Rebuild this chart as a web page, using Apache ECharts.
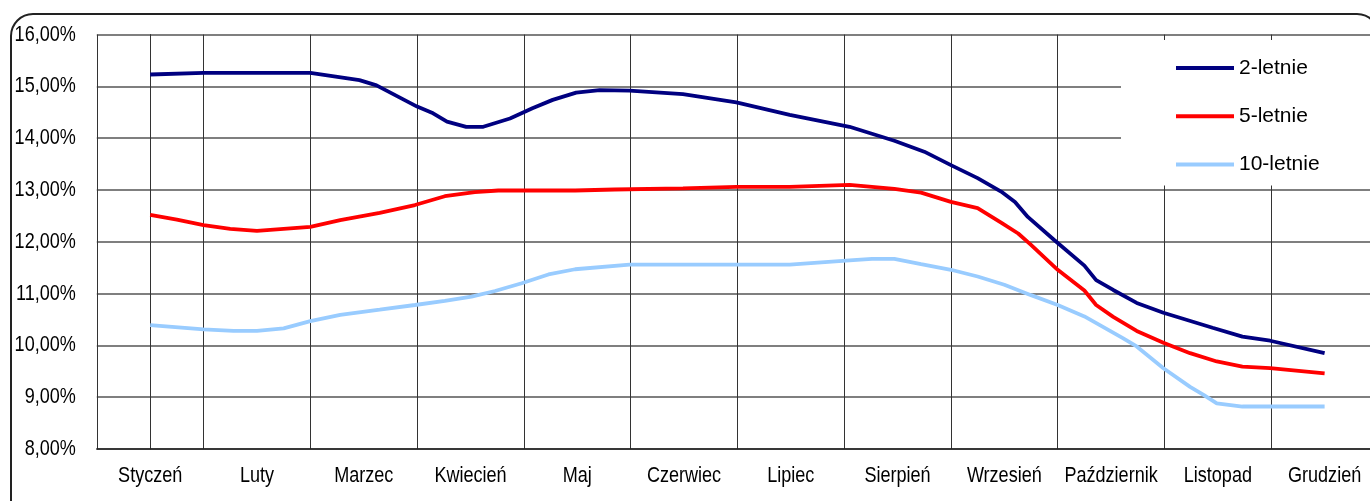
<!DOCTYPE html>
<html>
<head>
<meta charset="utf-8">
<style>
  html, body { margin: 0; padding: 0; background: #fff; overflow: hidden; }
  #chart { width: 1378px; height: 501px; }
</style>
<script src="https://cdn.jsdelivr.net/npm/echarts@6/dist/echarts.min.js"></script>
</head>
<body>
<div id="chart"></div>
<script>
// Month labels on the category axis
const months = ['Styczeń', 'Luty', 'Marzec', 'Kwiecień', 'Maj', 'Czerwiec',
                'Lipiec', 'Sierpień', 'Wrzesień', 'Październik', 'Listopad', 'Grudzień'];

// Y-axis ticks (yield, %)
const yTicks = [8, 9, 10, 11, 12, 13, 14, 15, 16];

// Yield observations: position in months (0 = middle of January) and yield in %
const pos2 = [0, 0.5, 1.5, 1.96, 2.12, 2.5, 2.65, 2.78, 2.96, 3.12, 3.37, 3.58, 3.77, 3.99,
              4.21, 4.49, 4.99, 5.49, 5.99, 6.55, 6.97, 7.25, 7.5, 7.75, 7.97, 8.1, 8.22,
              8.47, 8.75, 8.86, 9.02, 9.24, 9.49, 9.95, 10.23, 10.49, 11];
const val2 = [15.23, 15.26, 15.26, 15.12, 15.02, 14.61, 14.48, 14.32, 14.22, 14.22, 14.38, 14.58, 14.74, 14.88,
              14.93, 14.92, 14.85, 14.69, 14.45, 14.22, 13.95, 13.74, 13.48, 13.23, 12.97, 12.77, 12.48,
              12.03, 11.54, 11.26, 11.07, 10.82, 10.63, 10.34, 10.17, 10.09, 9.85];

const pos5 = [0, 0.25, 0.5, 0.75, 1, 1.5, 1.78, 2.15, 2.48, 2.76, 3.04, 3.26, 3.98, 4.35,
              4.99, 5.49, 5.99, 6.55, 6.97, 7.22, 7.5, 7.75, 7.97, 8.13, 8.25, 8.5, 8.75,
              8.86, 9.02, 9.24, 9.49, 9.74, 9.99, 10.23, 10.49, 11];
const val5 = [12.52, 12.43, 12.32, 12.25, 12.21, 12.29, 12.42, 12.56, 12.71, 12.88, 12.96, 12.99, 12.99, 13.01,
              13.03, 13.06, 13.06, 13.10, 13.02, 12.95, 12.77, 12.65, 12.37, 12.16, 11.94, 11.46, 11.06,
              10.78, 10.55, 10.28, 10.05, 9.85, 9.69, 9.59, 9.56, 9.46];

const pos10 = [0, 0.5, 0.78, 1, 1.25, 1.5, 1.78, 2.15, 2.48, 2.76, 3.01, 3.23, 3.48, 3.73, 3.98,
               4.49, 5.99, 6.55, 6.76, 6.97, 7.22, 7.5, 7.75, 8, 8.25, 8.5, 8.75, 9.11, 9.24,
               9.49, 9.74, 9.87, 9.99, 10.23, 11];
const val10 = [10.39, 10.31, 10.28, 10.28, 10.33, 10.47, 10.59, 10.69, 10.78, 10.86, 10.94, 11.05, 11.20, 11.37, 11.47,
               11.56, 11.56, 11.64, 11.67, 11.67, 11.57, 11.46, 11.33, 11.17, 10.97, 10.78, 10.56, 10.14, 9.98,
               9.56, 9.20, 9.04, 8.88, 8.82, 8.82];

const seriesNames = ['2-letnie', '5-letnie', '10-letnie'];
const seriesColors = ['#000080', '#FF0000', '#99CCFF'];

const zip = (xs, ys) => xs.map((x, i) => [x, ys[i]]);
const seriesData = [zip(pos2, val2), zip(pos5, val5), zip(pos10, val10)];

const FONT_FAMILY = '"Liberation Sans", Arial, sans-serif';
const LABEL_FONT = '22px ' + FONT_FAMILY;
const NARROW = 0.82;          // horizontal squeeze for the condensed label lettering

const chart = echarts.init(document.getElementById('chart'), null, { renderer: 'canvas' });

const frame = {
  type: 'rect',
  z: 100,
  silent: true,
  shape: { x: 11, y: 14, width: 1368, height: 540, r: 22 },
  style: { fill: 'none', stroke: '#222', lineWidth: 2 }
};

chart.setOption({
  animation: false,
  backgroundColor: '#fff',
  textStyle: { fontFamily: FONT_FAMILY },
  grid: { left: 96.8, top: 34.6, right: 0, bottom: 52, containLabel: false },
  xAxis: [
    {
      type: 'category',
      data: months,
      boundaryGap: true,
      axisLine: { show: true, lineStyle: { color: '#222', width: 1.5 } },
      axisTick: { show: false },
      axisLabel: { show: false },
      splitLine: { show: true, interval: 0, lineStyle: { color: '#333', width: 1 } }
    },
    {
      type: 'value',
      min: -0.5,
      max: 11.5,
      show: false
    }
  ],
  yAxis: {
    type: 'value',
    min: 8,
    max: 16,
    interval: 1,
    axisLine: { show: true, lineStyle: { color: '#333', width: 1 } },
    axisTick: { show: false },
    axisLabel: { show: false },
    splitLine: { show: true, lineStyle: { color: '#555', width: 1.5 } }
  },
  legend: {
    orient: 'vertical',
    left: 1121,
    top: 40,
    padding: [16, 160, 9, 55],
    backgroundColor: '#fff',
    icon: 'rect',
    itemWidth: 58,
    itemHeight: 4,
    itemGap: 24.3,
    textStyle: { color: '#000', fontSize: 21, lineHeight: 24, fontFamily: FONT_FAMILY },
    data: seriesNames
  },
  series: seriesNames.map((name, i) => ({
    name,
    type: 'line',
    xAxisIndex: 1,
    yAxisIndex: 0,
    data: seriesData[i],
    symbol: 'none',
    smooth: false,
    lineStyle: { color: seriesColors[i], width: 3.8 },
    itemStyle: { color: seriesColors[i] }
  })),
  graphic: [frame]
});

// Axis labels in condensed lettering, placed through the axes' own scales
const plotLeft = chart.convertToPixel({ xAxisIndex: 1 }, -0.5);
const plotBottom = chart.convertToPixel({ yAxisIndex: 0 }, 8);

function narrowText(text, x, y, align) {
  return {
    type: 'text',
    silent: true,
    x, y,
    scaleX: NARROW,
    style: {
      text, x: 0, y: 0, font: LABEL_FONT, fill: '#000',
      align, textAlign: align, verticalAlign: 'middle', textVerticalAlign: 'middle'
    }
  };
}

const yLabels = yTicks.map(v => narrowText(
  v.toFixed(2).replace('.', ',') + '%',
  plotLeft - 21,
  chart.convertToPixel({ yAxisIndex: 0 }, v),
  'right'
));

const xLabels = months.map(m => narrowText(
  m,
  chart.convertToPixel({ xAxisIndex: 0 }, m),
  plotBottom + 27,
  'center'
));

chart.setOption({ graphic: [frame].concat(yLabels, xLabels) }, { replaceMerge: ['graphic'] });
</script>
</body>
</html>
